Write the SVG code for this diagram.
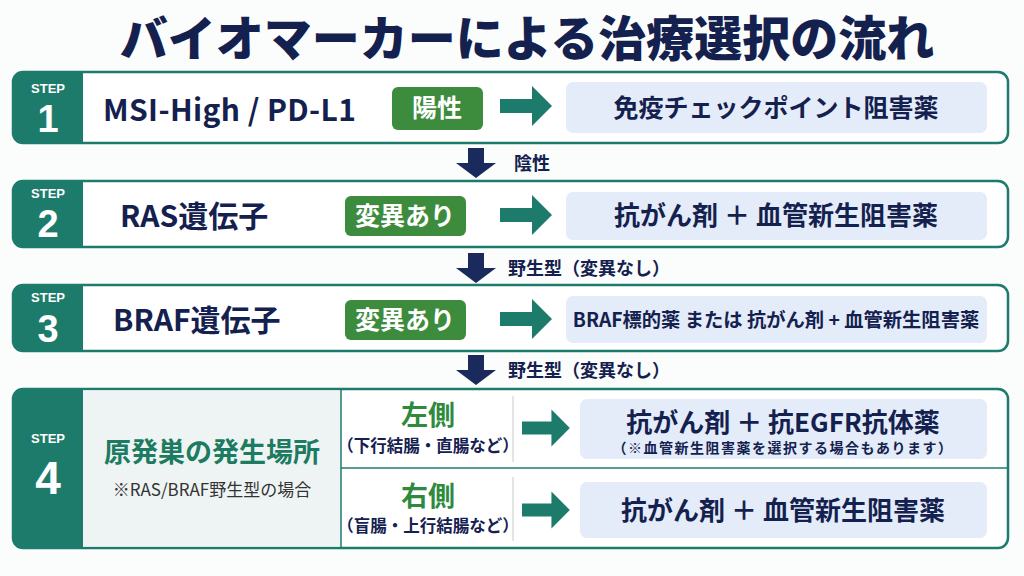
<svg xmlns="http://www.w3.org/2000/svg" width="1024" height="576" viewBox="0 0 1024 576">
<defs>
<style>
text{font-family:"Noto Sans CJK JP","Noto Sans",sans-serif;}
.title{font-size:48px;font-weight:900;fill:#14214f;}
.box{fill:#ffffff;stroke:#1d7b6c;stroke-width:2.5;}
.tab{fill:#1d7b6c;}
.step{font-family:"Liberation Sans",Arial,sans-serif;font-size:13px;font-weight:700;fill:#ffffff;}
.num{font-family:"Liberation Sans",Arial,sans-serif;font-size:38px;font-weight:700;fill:#ffffff;}
.q{font-size:30px;font-weight:700;fill:#14214f;}
.badge{fill:#3d8b3d;}
.bt{font-size:25px;font-weight:700;fill:#ffffff;}
.res{fill:#e3ecf8;}
.rt{font-size:26px;font-weight:700;fill:#14214f;}
.lbl{font-size:18px;font-weight:700;fill:#14214f;}
.garr{fill:#1d7b6c;}
.narr{fill:#1b2a5c;}
.side{font-size:27px;font-weight:700;fill:#2e8b3e;}
.sub{font-size:16.5px;font-weight:700;fill:#14214f;}
</style>
<path id="rarr" d="M0,-7 L32,-7 L32,-20 L52,0 L32,20 L32,7 L0,7 Z"/>
<path id="darr" d="M-8,0 L8,0 L8,15 L20,15 L0,30 L-20,15 L-8,15 Z"/>
</defs>
<rect width="1024" height="576" fill="#fbfcfc"/>
<text class="title" x="527" y="56" text-anchor="middle">バイオマーカーによる治療選択の流れ</text>

<g id="connectors">
<use href="#darr" class="narr" x="476" y="148"/>
<text class="lbl" x="514" y="170">陰性</text>
<use href="#darr" class="narr" x="476" y="253"/>
<text class="lbl" x="508" y="275">野生型（変異なし）</text>
<use href="#darr" class="narr" x="476" y="355"/>
<text class="lbl" x="508" y="377">野生型（変異なし）</text>
</g>

<g id="step1">
<rect class="box" x="13" y="72" width="995" height="71" rx="10"/>
<path class="tab" d="M23,72 H83 V143 H23 A10,10 0 0 1 13,133 V82 A10,10 0 0 1 23,72 Z"/>
<text class="step" x="48" y="93" text-anchor="middle">STEP</text>
<text class="num" x="48" y="132" text-anchor="middle">1</text>
<text class="q" x="103" y="121" style="letter-spacing:0.4px">MSI-High / PD-L1</text>
<rect class="badge" x="392" y="87" width="91" height="43" rx="6"/>
<text class="bt" x="437" y="117" text-anchor="middle">陽性</text>
<use href="#rarr" class="garr" x="500" y="106"/>
<rect class="res" x="566" y="82" width="421" height="51" rx="7"/>
<text class="rt" x="776" y="117" text-anchor="middle" style="font-size:25px">免疫チェックポイント阻害薬</text>
</g>

<g id="step2">
<rect class="box" x="13" y="181" width="995" height="66" rx="10"/>
<path class="tab" d="M23,181 H83 V247 H23 A10,10 0 0 1 13,237 V191 A10,10 0 0 1 23,181 Z"/>
<text class="step" x="48" y="198" text-anchor="middle">STEP</text>
<text class="num" x="48" y="237" text-anchor="middle">2</text>
<text class="q" x="120" y="227">RAS遺伝子</text>
<rect class="badge" x="345" y="196" width="121" height="40" rx="6"/>
<text class="bt" x="405" y="225" text-anchor="middle">変異あり</text>
<use href="#rarr" class="garr" x="500" y="215"/>
<rect class="res" x="566" y="192" width="421" height="48" rx="7"/>
<text class="rt" x="776" y="225" text-anchor="middle">抗がん剤 ＋ 血管新生阻害薬</text>
</g>

<g id="step3">
<rect class="box" x="13" y="285" width="995" height="66" rx="10"/>
<path class="tab" d="M23,285 H83 V351 H23 A10,10 0 0 1 13,341 V295 A10,10 0 0 1 23,285 Z"/>
<text class="step" x="48" y="302" text-anchor="middle">STEP</text>
<text class="num" x="48" y="342" text-anchor="middle">3</text>
<text class="q" x="113" y="331">BRAF遺伝子</text>
<rect class="badge" x="345" y="300" width="121" height="40" rx="6"/>
<text class="bt" x="405" y="329" text-anchor="middle">変異あり</text>
<use href="#rarr" class="garr" x="500" y="319"/>
<rect class="res" x="566" y="296" width="421" height="47" rx="7"/>
<text class="rt" x="776" y="327" text-anchor="middle" style="font-size:19.3px">BRAF標的薬 または 抗がん剤 + 血管新生阻害薬</text>
</g>

<g id="step4">
<rect class="box" x="13" y="389" width="995" height="159" rx="10"/>
<rect x="83" y="390.5" width="258" height="156" fill="#eef4f3"/>
<path class="tab" d="M23,389 H83 V548 H23 A10,10 0 0 1 13,538 V399 A10,10 0 0 1 23,389 Z"/>
<line x1="341" y1="389" x2="341" y2="548" stroke="#1d7b6c" stroke-width="1.5"/>
<line x1="341" y1="468" x2="1008" y2="468" stroke="#1d7b6c" stroke-width="1.5"/>
<text class="step" x="48" y="443" text-anchor="middle">STEP</text>
<text class="num" x="48" y="494" text-anchor="middle" style="font-size:46px">4</text>
<text x="212" y="462" text-anchor="middle" style="font-size:27px;font-weight:700;fill:#1d7b62">原発巣の発生場所</text>
<text x="212" y="496" text-anchor="middle" style="font-size:17px;font-weight:400;fill:#333333">※RAS/BRAF野生型の場合</text>
<text class="side" x="428" y="425" text-anchor="middle">左側</text>
<text class="sub" x="428" y="452" text-anchor="middle">（下行結腸・直腸など）</text>
<text class="side" x="428" y="506" text-anchor="middle">右側</text>
<text class="sub" x="428" y="532" text-anchor="middle">（盲腸・上行結腸など）</text>
<line x1="513" y1="396" x2="513" y2="462" stroke="#c8cccc" stroke-width="1"/>
<line x1="513" y1="477" x2="513" y2="541" stroke="#c8cccc" stroke-width="1"/>
<use href="#rarr" class="garr" x="522" y="428" transform="translate(522 428) scale(0.92) translate(-522 -428)"/>
<use href="#rarr" class="garr" x="522" y="510" transform="translate(522 510) scale(0.92) translate(-522 -510)"/>
<rect class="res" x="580" y="399" width="407" height="60" rx="7"/>
<text class="rt" x="783" y="432" text-anchor="middle">抗がん剤 ＋ 抗EGFR抗体薬</text>
<text x="783" y="453" text-anchor="middle" style="font-size:14px;font-weight:700;fill:#14214f;letter-spacing:1.5px">（※血管新生阻害薬を選択する場合もあります）</text>
<rect class="res" x="580" y="482" width="407" height="56" rx="7"/>
<text class="rt" x="783" y="520" text-anchor="middle">抗がん剤 ＋ 血管新生阻害薬</text>
</g>
</svg>
